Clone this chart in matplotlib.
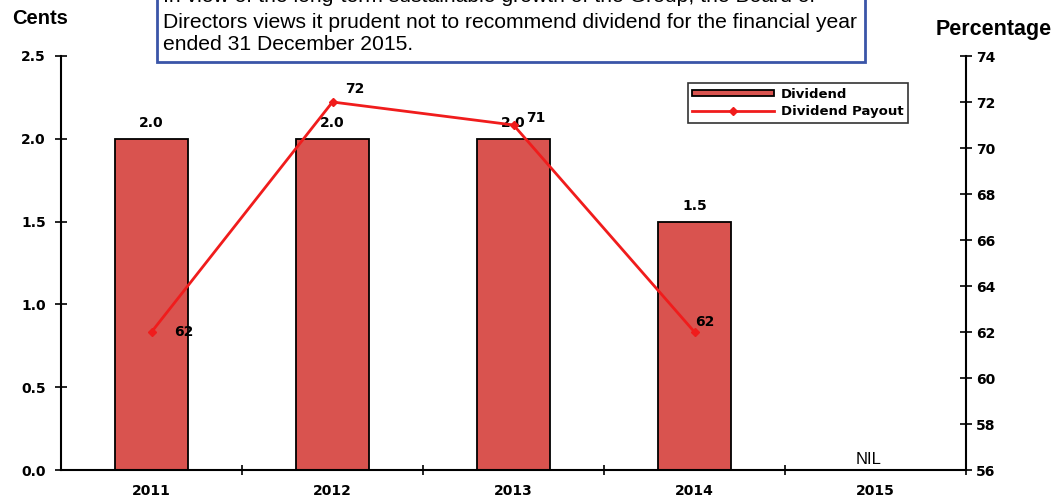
import matplotlib
matplotlib.use("Agg")
import matplotlib.pyplot as plt
from matplotlib.patches import Rectangle

# data
years = ["2011", "2012", "2013", "2014", "2015"]
dividend = [2.0, 2.0, 2.0, 1.5, 0.0]
payout = [62, 72, 71, 62]
note_lines = [
    "In view of the long-term sustainable growth of the Group, the Board of",
    "Directors views it prudent not to recommend dividend for the financial year",
    "ended 31 December 2015.",
]

bar_color = "#d9534f"
line_color = "#f01c1c"
tick_font = {"family": "DejaVu Sans", "weight": "bold", "size": 10}

fig = plt.figure(figsize=(10.56, 4.99), dpi=100)
ax = fig.add_axes([61 / 1056, 1 - 470 / 499, 905 / 1056, 414 / 499])
ax2 = ax.twinx()

x = list(range(len(years)))
ax.bar(x[:4], dividend[:4], width=0.4, color=bar_color, edgecolor="black",
       linewidth=1.3, label="Dividend", zorder=2)
ax2.plot(x[:4], payout, color=line_color, linewidth=2, marker="D",
         markersize=4, label="Dividend Payout", zorder=3)

# bar value labels
for i in range(4):
    ax.annotate(f"{dividend[i]:.1f}", (x[i], dividend[i]), xytext=(0, 16),
                textcoords="offset pixels", ha="center", va="center",
                zorder=5, **tick_font)
ax.text(x[4] - 0.04, 0.02, "NIL", ha="center", va="bottom",
        family="Liberation Sans", fontsize=12)

# payout labels
offsets = [(32, 0), (22, 13), (22, 7), (10, 10)]
for i in range(4):
    ax2.annotate(str(payout[i]), (x[i], payout[i]), xytext=offsets[i],
                 textcoords="offset pixels", ha="center", va="center",
                 zorder=5, **tick_font)

ax.set_xlim(-0.5, 4.5)
ax.set_ylim(0, 2.5)
ax2.set_ylim(56, 74)
ax.set_yticks([0, 0.5, 1.0, 1.5, 2.0, 2.5])
ax.set_yticklabels(["0.0", "0.5", "1.0", "1.5", "2.0", "2.5"], fontdict=tick_font)
ax2.set_yticks(range(56, 75, 2))
ax2.set_yticklabels([str(v) for v in range(56, 75, 2)], fontdict=tick_font)
ax.set_xticks(x)
ax.set_xticklabels(years, fontdict=tick_font)
ax.set_xticks([0.5, 1.5, 2.5, 3.5, 4.5], minor=True)
ax.tick_params(axis="x", which="major", length=0, pad=10)
ax.tick_params(axis="x", which="minor", direction="inout", length=7, width=1.2)
ax.tick_params(axis="y", direction="inout", length=8, width=1.2, pad=7)
ax2.tick_params(axis="y", direction="inout", length=8, width=1.2, pad=3)

for a in (ax, ax2):
    a.spines["top"].set_visible(False)
    for s in ("left", "right", "bottom"):
        a.spines[s].set_linewidth(1.5)
ax.spines["right"].set_visible(False)
ax2.spines["left"].set_visible(False)
ax2.spines["bottom"].set_visible(False)

# legend combining both axes
h1, l1 = ax.get_legend_handles_labels()
h2, l2 = ax2.get_legend_handles_labels()
leg = ax2.legend(h1 + h2, l1 + l2, loc="upper right",
                 bbox_to_anchor=(847 / 905, 1 - 27 / 414),
                 prop={"family": "DejaVu Sans", "weight": "bold", "size": 9.5},
                 frameon=True, fancybox=False, edgecolor="black",
                 borderpad=0.35, labelspacing=0.35, handlelength=6.2,
                 handleheight=0.4, handletextpad=0.5, borderaxespad=0)
leg.get_frame().set_linewidth(1.2)

fig.text(12 / 1056, 1 - 18 / 499, "Cents", family="Liberation Sans",
         weight="bold", fontsize=14.5, va="center", ha="left")
fig.text(1052 / 1056, 1 - 30 / 499, "Percentage", family="Liberation Sans",
         weight="bold", fontsize=15.5, va="center", ha="right")

# note box at the top, first line runs off the top edge
fig.patches.append(Rectangle((157 / 1056, 1 - 62 / 499), 708 / 1056, 0.3,
                             transform=fig.transFigure, facecolor="white",
                             edgecolor="#3a55a8", linewidth=2, zorder=10))
line_y = [-4, 22, 45]
for line, y in zip(note_lines, line_y):
    fig.text(163 / 1056, 1 - y / 499, line,
             family="Liberation Sans", fontsize=15.2, va="center", ha="left",
             zorder=11)

fig.savefig("out.png", dpi=100)
